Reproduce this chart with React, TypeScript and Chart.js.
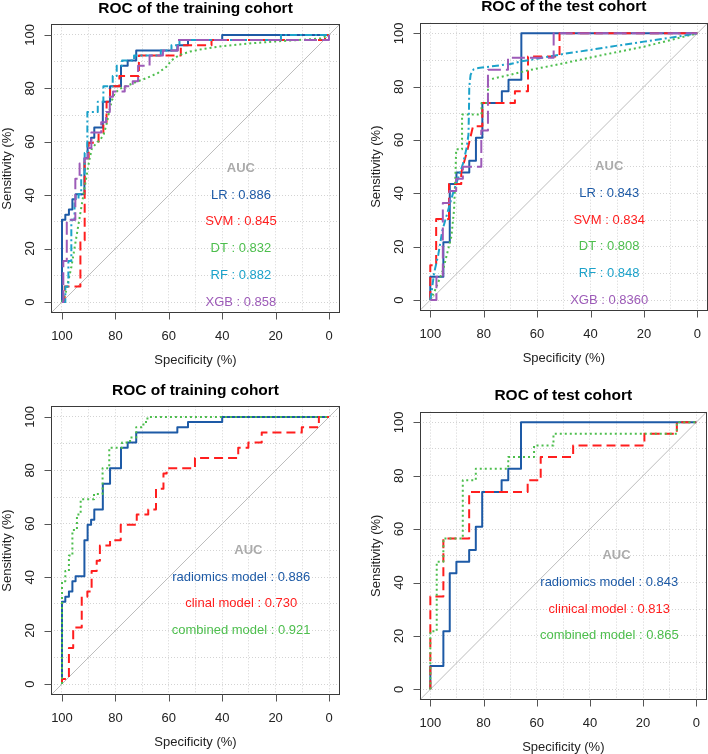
import React, { useEffect, useRef } from 'react';
import { Chart, registerables } from 'chart.js';

Chart.register(...registerables);

type Pt = [number, number];

const FONT = '"Liberation Sans", Arial, Helvetica, sans-serif';

// axis values
const tickValues = [0, 20, 40, 60, 80, 100];
const gridValues = [0, 10, 20, 30, 40, 50, 60, 70, 80, 90, 100];
const labelRows = [40, 30, 20, 10, 0];

// ---------- ROC curves: [specificity %, sensitivity %] ----------
const radiomicsTrain: Pt[] = [
  [100, 0], [100, 30.8], [98.75, 30.8], [98.75, 32.7], [97.4, 32.7], [97.4, 34.6], [96.1, 34.6], [96.1, 38.5],
  [94.9, 38.5], [94.9, 40.4], [91.6, 40.4], [91.6, 53.8], [90.4, 53.8], [90.4, 59.6], [89.1, 59.6], [89.1, 61.5],
  [87.9, 61.5], [87.9, 65.4], [84.7, 65.4], [84.7, 75], [82, 75], [82, 80.8], [77.9, 80.8], [77.9, 88.5],
  [75.4, 88.5], [75.4, 90.4], [72.2, 90.4], [72.2, 94.2], [56.8, 94.2], [56.8, 96.2], [52.8, 96.2], [52.8, 98.1],
  [40, 98.1], [40, 100], [0, 100],
];
const radiomicsTest: Pt[] = [
  [100, 0], [100, 8.7], [95.1, 8.7], [95.1, 21.7], [92.7, 21.7], [92.7, 43.5], [90.2, 43.5], [90.2, 47.8],
  [85.4, 47.8], [85.4, 52.2], [82.9, 52.2], [82.9, 60.9], [80.5, 60.9], [80.5, 73.9], [73.2, 73.9], [73.2, 78.3],
  [70.7, 78.3], [70.7, 82.6], [65.9, 82.6], [65.9, 100], [0, 100],
];
const svmTrain: Pt[] = [
  [100, 0], [99, 0], [99, 5.8], [93.1, 5.8], [93.1, 23.1], [91.5, 23.1], [91.5, 53.8], [90, 53.8], [90, 59.6],
  [86.3, 59.6], [86.3, 63.5], [84.5, 63.5], [84.5, 67.3], [83.3, 67.3], [83.3, 75], [82, 75], [82, 80.8],
  [78.5, 80.8], [78.5, 84.6], [71.2, 84.6], [71.2, 92.3], [55.5, 92.3], [55.5, 96.2], [44, 96.2], [44, 98.1],
  [1.5, 98.1], [1.5, 100], [0, 100],
];
const dtTrain: Pt[] = [
  [100, 0], [98.5, 4], [96.5, 13], [95, 22], [93.5, 31], [92, 40], [91, 46], [89.8, 53], [88.8, 57.5], [87, 59.6],
  [85.5, 61], [84.3, 63], [83.2, 67], [82.3, 71.5], [81.3, 75.5], [80.3, 78], [78.5, 79.8], [76, 80.8], [72, 82.5],
  [68, 84], [64, 85.8], [61, 88], [59, 90.5], [56, 92.5], [52, 93.8], [47, 94.8], [40, 95.8], [30, 96.8],
  [20, 97.6], [10, 98.2], [3, 98.7], [0, 100],
];
const rfTrain: Pt[] = [
  [100, 0], [98.75, 0], [98.75, 5.8], [97.6, 5.8], [97.6, 15.4], [96.5, 15.4], [96.5, 30.8], [95.3, 30.8],
  [95.3, 38.5], [93.8, 38.5], [93.8, 40.4], [92.8, 40.4], [92.8, 48.1], [91.5, 48.1], [91.5, 55.8], [90.5, 55.8],
  [90.5, 71.2], [86.6, 71.2], [86.6, 75], [84.5, 75], [84.5, 80.8], [81, 80.8], [81, 84.6], [79.5, 84.6],
  [79.5, 88.5], [77.5, 88.5], [77.5, 90.4], [73, 90.4], [73, 92.3], [63, 92.3], [63, 94.2], [59, 94.2],
  [59, 96.2], [56, 96.2], [56, 98.1], [18, 98.1], [18, 100], [0, 100],
];
const xgbTrain: Pt[] = [
  [100, 0], [99.5, 0], [99.5, 15.4], [98.2, 15.4], [98.2, 30.8], [95, 30.8], [95, 46.2], [93.4, 46.2],
  [93.4, 51.9], [91.5, 51.9], [91.5, 53.8], [90.3, 53.8], [90.3, 57.7], [89, 57.7], [89, 63.5], [85.3, 63.5],
  [85.3, 67.3], [83.5, 67.3], [83.5, 71.2], [82.1, 71.2], [82.1, 76.9], [80.9, 76.9], [80.9, 78.8], [76.5, 78.8],
  [76.5, 80.8], [73.5, 80.8], [73.5, 82.7], [71.5, 82.7], [71.5, 88.5], [67.2, 88.5], [67.2, 92.3], [62.2, 92.3],
  [62.2, 94.2], [56.6, 94.2], [56.6, 98.1], [0, 98.1], [0, 100],
];
const svmTest: Pt[] = [
  [100, 0], [100, 13], [97.8, 13], [97.8, 30.4], [93, 30.4], [93, 43.5], [88.4, 43.5], [88.4, 47.8],
  [85.9, 57], [84, 65.2], [80.5, 65.2], [80.5, 73.9], [68.3, 73.9], [68.3, 78.3], [63.4, 78.3], [63.4, 91.3],
  [51.6, 91.3], [51.6, 100], [0, 100],
];
const dtTest: Pt[] = [
  [100, 0], [98.5, 3], [96.5, 8], [95.2, 11.3], [93.8, 17], [92.1, 23.8], [91.1, 33.8], [90.6, 46.3],
  [90.3, 56.5], [88.1, 56.5], [88.1, 69.6], [80.8, 69.6], [80.8, 73.9], [78.4, 73.9], [78.4, 82.6], [70, 84.5],
  [63, 86.2], [50, 88.8], [35, 92], [20, 95], [10, 97.5], [0, 100],
];
const rfTest: Pt[] = [
  [100, 0], [99.5, 3], [98.6, 10], [97, 17], [95.5, 26], [93.5, 33], [91.5, 40], [89.5, 46], [87.8, 51],
  [86.4, 57], [85.7, 62], [85.5, 72], [85.4, 80], [84.9, 84.5], [83.8, 86.5], [82, 87], [78, 87.5], [70, 88.5],
  [66, 89.5], [60, 90.5], [50, 92.3], [40, 93.8], [30, 95.4], [20, 96.9], [10, 98.4], [0, 100],
];
const xgbTest: Pt[] = [
  [100, 0], [97.7, 0], [97.7, 8.7], [95.3, 8.7], [95.3, 36.4], [92.8, 36.4], [92.8, 40.9], [90.3, 40.9],
  [90.3, 45.5], [87.8, 45.5], [87.8, 50], [80.9, 50], [80.9, 63.6], [78.4, 63.6], [78.4, 86.4], [70.9, 86.4],
  [70.9, 90.9], [53.8, 90.9], [53.8, 100], [0, 100],
];
const clinicalTrain: Pt[] = [
  [100, 0], [100, 1.9], [97.4, 1.9], [97.4, 13.5], [95.8, 13.5], [95.8, 21.2], [92.6, 21.2], [92.6, 32.7],
  [90.5, 32.7], [90.5, 34.6], [88.9, 34.6], [88.9, 42.3], [87, 42.3], [87, 46.2], [85.8, 46.2], [85.8, 51.9],
  [82, 51.9], [82, 53.8], [78, 53.8], [78, 59.6], [72, 59.6], [72, 63.5], [67.7, 63.5], [67.7, 65.4],
  [64.8, 65.4], [64.8, 73.1], [62, 73.1], [62, 78.8], [60.8, 78.8], [60.8, 80.8], [50.2, 80.8], [50.2, 84.6],
  [34, 84.6], [34, 88.5], [30.2, 88.5], [30.2, 90.4], [25.2, 90.4], [25.2, 94.2], [10.2, 94.2], [10.2, 96.2],
  [3.8, 96.2], [3.8, 100], [0, 100],
];
const combinedTrain: Pt[] = [
  [100, 0], [100, 38.5], [98.75, 38.5], [98.75, 42.3], [97.4, 42.3], [97.4, 48.1], [96.1, 48.1], [96.1, 57.7],
  [94.4, 57.7], [94.4, 63.5], [93, 63.5], [93, 69.2], [88, 69.2], [88, 71.2], [84.8, 71.2], [84.8, 80.8],
  [82.3, 80.8], [82.3, 88.5], [77.5, 88.5], [77.5, 90.4], [74.5, 90.4], [74.5, 92.3], [72.2, 92.3],
  [72.2, 96.2], [69.5, 96.2], [69.5, 98.1], [68, 98.1], [68, 100], [0, 100],
];
const clinicalTest: Pt[] = [
  [100, 0], [100, 34.8], [95.1, 34.8], [95.1, 56.5], [85.4, 56.5], [85.4, 73.9], [63.4, 73.9], [63.4, 78.3],
  [58.5, 78.3], [58.5, 87], [46.3, 87], [46.3, 91.3], [19.5, 91.3], [19.5, 95.7], [7.3, 95.7], [7.3, 100], [0, 100],
];
const combinedTest: Pt[] = [
  [100, 0], [100, 21.7], [97.6, 21.7], [97.6, 47.8], [95.1, 47.8], [95.1, 56.5], [87.8, 56.5], [87.8, 78.3],
  [82.9, 78.3], [82.9, 82.6], [70.7, 82.6], [70.7, 87], [61, 87], [61, 91.3], [53.7, 91.3], [53.7, 95.7],
  [7.3, 95.7], [7.3, 100], [0, 100],
];

// ---------- labels ----------
const mlNames = ['LR', 'SVM', 'DT', 'RF', 'XGB'];
const mlAucTrain = ['0.886', '0.845', '0.832', '0.882', '0.858'];
const mlAucTest = ['0.843', '0.834', '0.808', '0.848', '0.8360'];
const cmpNamesTrain = ['radiomics model', 'clinal model', 'combined model'];
const cmpNamesTest = ['radiomics model', 'clinical model', 'combined model'];
const cmpAucTrain = ['0.886', '0.730', '0.921'];
const cmpAucTest = ['0.843', '0.813', '0.865'];
const titles = ['ROC of the training cohort', 'ROC of the test cohort', 'ROC of training cohort', 'ROC of test cohort'];

// ---------- styles ----------
const BLUE = '#1D5AA6';
const RED = '#FF1E1E';
const GREEN = '#4DBE4D';
const CYAN = '#1CA2CA';
const PURPLE = '#9D5BB8';
const styleLR = { color: BLUE, dash: [] as number[] };
const styleSVM = { color: RED, dash: [9, 5] };
const styleDT = { color: GREEN, dash: [2, 3] };
const styleRF = { color: CYAN, dash: [7, 3, 2, 3] };
const styleXGB = { color: PURPLE, dash: [13, 5] };
const mlStyles = [styleLR, styleSVM, styleDT, styleRF, styleXGB];
const cmpStyles = [styleLR, styleSVM, styleDT];

type Panel = {
  title: string;
  left: number;
  top: number;
  pad: { left: number; right: number; top: number; bottom: number };
  curves: Pt[][];
  styles: { color: string; dash: number[] }[];
  names: string[];
  aucs: string[];
  aucX: number;
  textX: number;
};

const panels: Panel[] = [
  {
    title: titles[0], left: 0, top: 0,
    pad: { left: 51.3, right: 14.3, top: 24.3, bottom: 64.3 },
    curves: [radiomicsTrain, svmTrain, dtTrain, rfTrain, xgbTrain],
    styles: mlStyles, names: mlNames, aucs: mlAucTrain, aucX: 33, textX: 33,
  },
  {
    title: titles[1], left: 354, top: 0,
    pad: { left: 65.6, right: 0, top: 22.7, bottom: 66.3 },
    curves: [radiomicsTest, svmTest, dtTest, rfTest, xgbTest],
    styles: mlStyles, names: mlNames, aucs: mlAucTest, aucX: 33, textX: 33,
  },
  {
    title: titles[2], left: 0, top: 377,
    pad: { left: 51.3, right: 14.3, top: 29.3, bottom: 59.3 },
    curves: [radiomicsTrain, clinicalTrain, combinedTrain],
    styles: cmpStyles, names: cmpNamesTrain, aucs: cmpAucTrain, aucX: 30.2, textX: 32.9,
  },
  {
    title: titles[3], left: 354, top: 377,
    pad: { left: 65.7, right: 1.1, top: 34.6, bottom: 54 },
    curves: [radiomicsTest, clinicalTest, combinedTest],
    styles: cmpStyles, names: cmpNamesTest, aucs: cmpAucTest, aucX: 30, textX: 32.7,
  },
];

const rocDecor = {
  id: 'rocDecor',
  afterDraw(chart: any, _args: any, opts: any) {
    const { ctx, chartArea: a, scales } = chart;
    const xs = scales.x;
    const ys = scales.y;
    ctx.save();
    const L = Math.round(a.left) + 0.5;
    const R = Math.round(a.right) - 0.5;
    const T = Math.round(a.top) + 0.5;
    const B = Math.round(a.bottom) - 0.5;
    ctx.lineWidth = 1;
    ctx.strokeStyle = '#3a3a3a';
    ctx.strokeRect(L, T, R - L, B - T);

    ctx.strokeStyle = '#555';
    ctx.fillStyle = '#222';
    ctx.font = `13px ${FONT}`;
    ctx.textAlign = 'center';
    ctx.textBaseline = 'middle';
    for (const v of tickValues) {
      const xp = xs.getPixelForValue(v);
      const px = Math.round(xp) + 0.5;
      ctx.beginPath();
      ctx.moveTo(px, B);
      ctx.lineTo(px, B + 7);
      ctx.stroke();
      ctx.fillText(String(v), xp, a.bottom + 23.5);

      const yp = ys.getPixelForValue(v);
      const py = Math.round(yp) + 0.5;
      ctx.beginPath();
      ctx.moveTo(L, py);
      ctx.lineTo(L - 7, py);
      ctx.stroke();
      ctx.save();
      ctx.translate(a.left - 20.5, yp);
      ctx.rotate(-Math.PI / 2);
      ctx.fillText(String(v), 0, 0);
      ctx.restore();
    }
    // axis titles
    ctx.fillText('Specificity (%)', (a.left + a.right) / 2, a.bottom + 47.3);
    ctx.save();
    ctx.translate(a.left - 43.5, (a.top + a.bottom) / 2);
    ctx.rotate(-Math.PI / 2);
    ctx.fillText('Sensitivity (%)', 0, 0);
    ctx.restore();

    // main title
    ctx.fillStyle = '#000';
    ctx.font = `bold 15.5px ${FONT}`;
    ctx.fillText(opts.title, (a.left + a.right) / 2, a.top - 15.7);

    // AUC annotations
    ctx.font = `bold 13px ${FONT}`;
    ctx.fillStyle = '#ABABAB';
    ctx.fillText('AUC', xs.getPixelForValue(opts.aucX), ys.getPixelForValue(50));
    ctx.font = `13px ${FONT}`;
    opts.names.forEach((n: string, i: number) => {
      ctx.fillStyle = opts.colors[i];
      ctx.fillText(`${n} : ${opts.aucs[i]}`, xs.getPixelForValue(opts.textX), ys.getPixelForValue(labelRows[i]));
    });
    ctx.restore();
  },
};

function RocPanel({ cfg }: { cfg: Panel }) {
  const ref = useRef<HTMLCanvasElement>(null);
  useEffect(() => {
    const n = cfg.curves.length;
    const datasets: any[] = [
      {
        data: [{ x: 104, y: -4 }, { x: -4, y: 104 }],
        borderColor: '#BDBDBD',
        borderWidth: 1,
        showLine: true,
        pointRadius: 0,
        order: 100,
      },
      ...cfg.curves.map((c, i) => ({
        data: c.map(([x, y]) => ({ x, y })),
        borderColor: cfg.styles[i].color,
        borderDash: cfg.styles[i].dash,
        borderWidth: 2,
        borderJoinStyle: 'round',
        borderCapStyle: 'butt',
        showLine: true,
        pointRadius: 0,
        tension: 0,
        fill: false,
        order: n - i,
      })),
    ];
    const axis = (reverse: boolean) => ({
      type: 'linear',
      min: -4,
      max: 104,
      reverse,
      afterBuildTicks: (s: any) => {
        s.ticks = gridValues.map((v) => ({ value: v }));
      },
      ticks: { display: false },
      grid: { display: true, drawTicks: false, color: '#D3D3D3', lineWidth: 1 },
      border: { display: false, dash: [1, 2] },
      title: { display: false },
    });
    const chart = new Chart(ref.current as HTMLCanvasElement, {
      type: 'scatter',
      data: { datasets },
      options: {
        animation: false,
        responsive: false,
        devicePixelRatio: 1,
        layout: { padding: cfg.pad },
        scales: { x: axis(true), y: axis(false) } as any,
        plugins: {
          legend: { display: false },
          tooltip: { enabled: false },
          rocDecor: {
            title: cfg.title,
            names: cfg.names,
            aucs: cfg.aucs,
            colors: cfg.styles.map((s) => s.color),
            aucX: cfg.aucX,
            textX: cfg.textX,
          },
        } as any,
      },
      plugins: [rocDecor],
    } as any);
    return () => chart.destroy();
  }, [cfg]);
  return (
    <canvas
      ref={ref}
      width={354}
      height={377}
      style={{ position: 'absolute', left: cfg.left, top: cfg.top, width: 354, height: 377 }}
    />
  );
}

export default function App() {
  return (
    <div style={{ position: 'absolute', left: 0, top: 0, width: 708, height: 754, background: '#fff' }}>
      {panels.map((p, i) => (
        <RocPanel key={i} cfg={p} />
      ))}
    </div>
  );
}
